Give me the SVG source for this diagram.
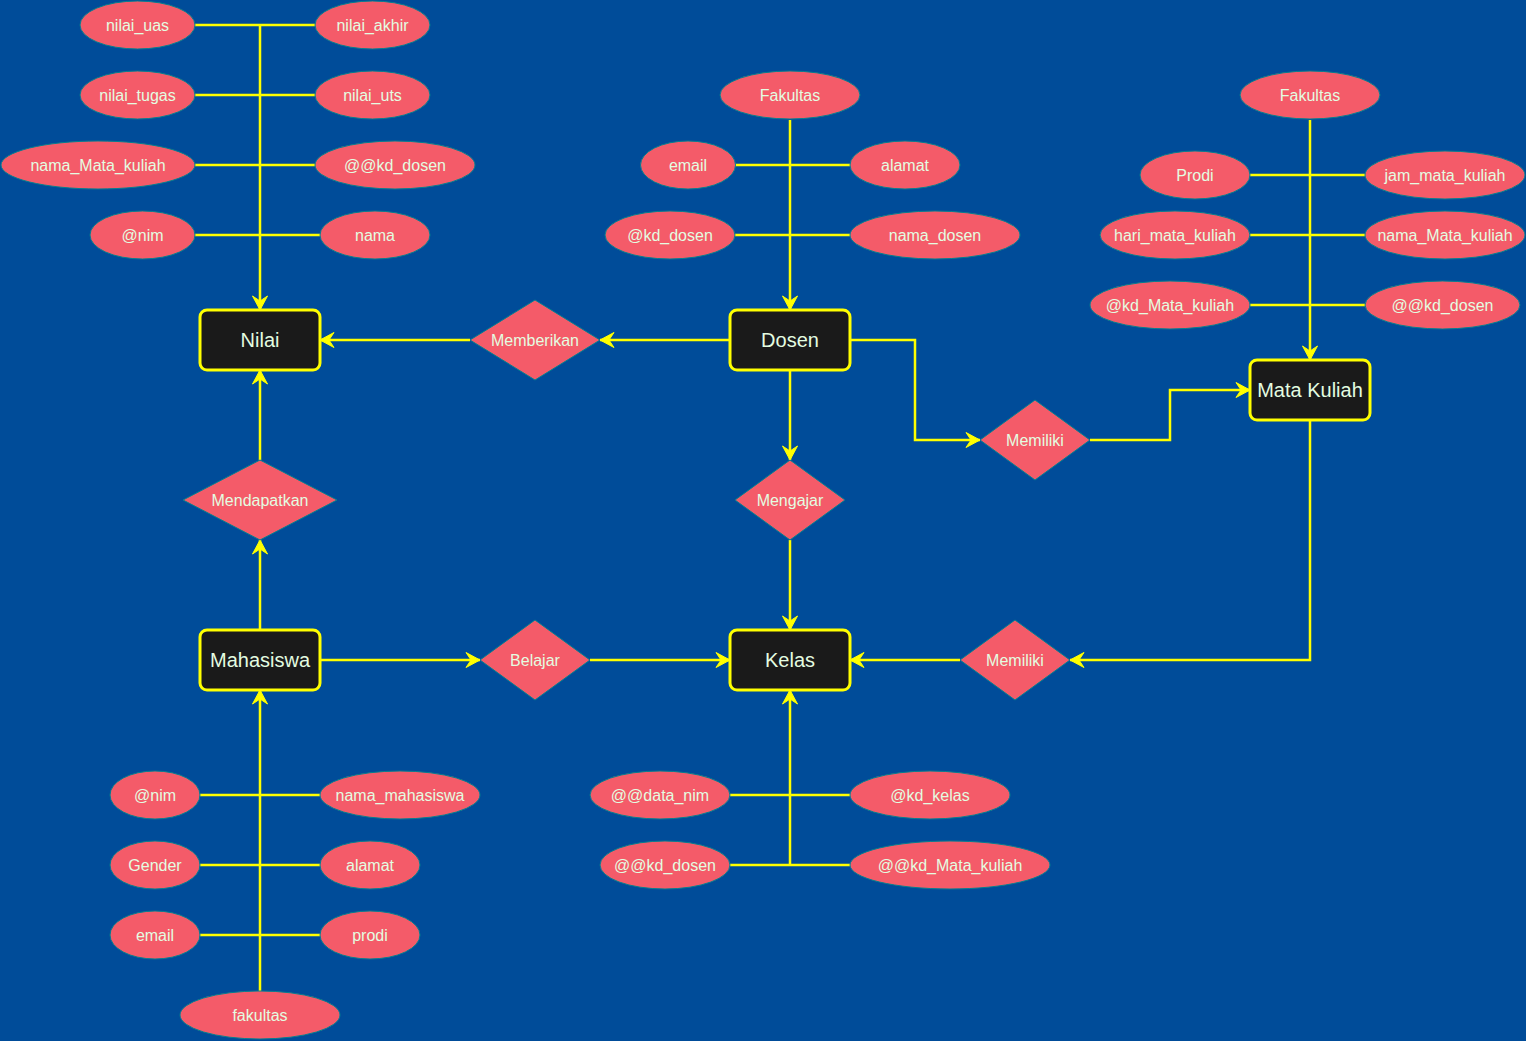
<svg xmlns="http://www.w3.org/2000/svg" width="1526" height="1041" viewBox="0 0 1526 1041">
<defs>
<style>
.bg{fill:#004C99}
.attr{fill:#F45B69;stroke:#028090;stroke-width:1}
.rel{fill:#F45B69;stroke:#028090;stroke-width:1}
.ent{fill:#1A1A1A;stroke:#FFFF00;stroke-width:3}
.t{font-family:"Liberation Sans",Arial,sans-serif;font-size:16px;fill:#E4FDE1;text-anchor:middle}
.te{font-family:"Liberation Sans",Arial,sans-serif;font-size:20px;fill:#E4FDE1;text-anchor:middle}
.c{fill:none;stroke:#FFFF00;stroke-width:2.5}
.a{marker-end:url(#arr)}
</style>
<marker id="arr" markerUnits="userSpaceOnUse" markerWidth="16" markerHeight="16" viewBox="-15 -8 16 16" refX="0" refY="0" orient="auto">
<path d="M0,0 L-14,-7.5 L-9,0 L-14,7.5 Z" fill="#FFFF00" stroke="#FFFF00" stroke-width="1"/>
</marker>
</defs>
<rect class="bg" x="0" y="0" width="1526" height="1041"/>
<g id="connectors">
<!-- Nilai attributes -->
<path class="c a" d="M260,25 L260,310"/>
<path class="c" d="M195,25 L316,25"/>
<path class="c" d="M195,95 L316,95"/>
<path class="c" d="M195,165 L316,165"/>
<path class="c" d="M195,235 L321,235"/>
<!-- Dosen attributes -->
<path class="c a" d="M790,120 L790,310"/>
<path class="c" d="M735,165 L851,165"/>
<path class="c" d="M735,235 L851,235"/>
<!-- Mata Kuliah attributes -->
<path class="c a" d="M1310,120 L1310,360"/>
<path class="c" d="M1250,175 L1366,175"/>
<path class="c" d="M1250,235 L1366,235"/>
<path class="c" d="M1250,305 L1366,305"/>
<!-- Mahasiswa attributes -->
<path class="c a" d="M260,991 L260,690"/>
<path class="c" d="M200,795 L321,795"/>
<path class="c" d="M200,865 L321,865"/>
<path class="c" d="M200,935 L321,935"/>
<!-- Kelas attributes -->
<path class="c a" d="M790,865 L790,690"/>
<path class="c" d="M730,795 L851,795"/>
<path class="c" d="M730,865 L851,865"/>
<!-- relationships -->
<path class="c a" d="M730,340 L600,340"/>
<path class="c a" d="M470,340 L320,340"/>
<path class="c a" d="M260,460 L260,370"/>
<path class="c a" d="M260,630 L260,540"/>
<path class="c a" d="M320,660 L480,660"/>
<path class="c a" d="M590,660 L730,660"/>
<path class="c a" d="M790,370 L790,460"/>
<path class="c a" d="M790,540 L790,630"/>
<path class="c a" d="M850,340 L915,340 L915,440 L980,440"/>
<path class="c a" d="M1090,440 L1170,440 L1170,390 L1250,390"/>
<path class="c a" d="M1310,420 L1310,660 L1070,660"/>
<path class="c a" d="M960,660 L850,660"/>
</g>
<!-- Entities -->
<g id="nilai"><rect class="ent" x="200" y="310" width="120" height="60" rx="7"/><text class="te" x="260" y="347">Nilai</text></g>
<g id="dosen"><rect class="ent" x="730" y="310" width="120" height="60" rx="7"/><text class="te" x="790" y="347">Dosen</text></g>
<g id="mata-kuliah"><rect class="ent" x="1250" y="360" width="120" height="60" rx="7"/><text class="te" x="1310" y="397">Mata Kuliah</text></g>
<g id="mahasiswa"><rect class="ent" x="200" y="630" width="120" height="60" rx="7"/><text class="te" x="260" y="667">Mahasiswa</text></g>
<g id="kelas"><rect class="ent" x="730" y="630" width="120" height="60" rx="7"/><text class="te" x="790" y="667">Kelas</text></g>
<!-- Relationships -->
<g id="rel-memberikan"><polygon class="rel" points="535,300 600,340 535,380 470,340"/><text class="t" x="535" y="346">Memberikan</text></g>
<g id="rel-mendapatkan"><polygon class="rel" points="260,460 337,500 260,540 183,500"/><text class="t" x="260" y="506">Mendapatkan</text></g>
<g id="rel-belajar"><polygon class="rel" points="535,620 590,660 535,700 480,660"/><text class="t" x="535" y="666">Belajar</text></g>
<g id="rel-mengajar"><polygon class="rel" points="790,460 845,500 790,540 735,500"/><text class="t" x="790" y="506">Mengajar</text></g>
<g id="rel-memiliki-1"><polygon class="rel" points="1035,400 1090,440 1035,480 980,440"/><text class="t" x="1035" y="446">Memiliki</text></g>
<g id="rel-memiliki-2"><polygon class="rel" points="1015,620 1070,660 1015,700 960,660"/><text class="t" x="1015" y="666">Memiliki</text></g>
<!-- Nilai attributes -->
<g id="nilai-uas"><ellipse class="attr" cx="137.5" cy="25" rx="57.5" ry="24"/><text class="t" x="137.5" y="31">nilai_uas</text></g>
<g id="nilai-akhir"><ellipse class="attr" cx="372.5" cy="25" rx="57.5" ry="24"/><text class="t" x="372.5" y="31">nilai_akhir</text></g>
<g id="nilai-tugas"><ellipse class="attr" cx="137.5" cy="95" rx="57.5" ry="24"/><text class="t" x="137.5" y="101">nilai_tugas</text></g>
<g id="nilai-uts"><ellipse class="attr" cx="372.5" cy="95" rx="57.5" ry="24"/><text class="t" x="372.5" y="101">nilai_uts</text></g>
<g id="nilai-nama-mk"><ellipse class="attr" cx="98" cy="165" rx="97" ry="24"/><text class="t" x="98" y="171">nama_Mata_kuliah</text></g>
<g id="nilai-kd-dosen"><ellipse class="attr" cx="395" cy="165" rx="80" ry="24"/><text class="t" x="395" y="171">@@kd_dosen</text></g>
<g id="nilai-nim"><ellipse class="attr" cx="142.5" cy="235" rx="52.5" ry="24"/><text class="t" x="142.5" y="241">@nim</text></g>
<g id="nilai-nama"><ellipse class="attr" cx="375" cy="235" rx="55" ry="24"/><text class="t" x="375" y="241">nama</text></g>
<!-- Dosen attributes -->
<g id="dosen-fakultas"><ellipse class="attr" cx="790" cy="95" rx="70" ry="24"/><text class="t" x="790" y="101">Fakultas</text></g>
<g id="dosen-email"><ellipse class="attr" cx="688" cy="165" rx="47.5" ry="24"/><text class="t" x="688" y="171">email</text></g>
<g id="dosen-alamat"><ellipse class="attr" cx="905" cy="165" rx="55" ry="24"/><text class="t" x="905" y="171">alamat</text></g>
<g id="dosen-kd"><ellipse class="attr" cx="670" cy="235" rx="65" ry="24"/><text class="t" x="670" y="241">@kd_dosen</text></g>
<g id="dosen-nama"><ellipse class="attr" cx="935" cy="235" rx="85" ry="24"/><text class="t" x="935" y="241">nama_dosen</text></g>
<!-- Mata Kuliah attributes -->
<g id="mk-fakultas"><ellipse class="attr" cx="1310" cy="95" rx="70" ry="24"/><text class="t" x="1310" y="101">Fakultas</text></g>
<g id="mk-prodi"><ellipse class="attr" cx="1195" cy="175" rx="55" ry="24"/><text class="t" x="1195" y="181">Prodi</text></g>
<g id="mk-jam"><ellipse class="attr" cx="1445" cy="175" rx="80" ry="24"/><text class="t" x="1445" y="181">jam_mata_kuliah</text></g>
<g id="mk-hari"><ellipse class="attr" cx="1175" cy="235" rx="75" ry="24"/><text class="t" x="1175" y="241">hari_mata_kuliah</text></g>
<g id="mk-nama"><ellipse class="attr" cx="1445" cy="235" rx="80" ry="24"/><text class="t" x="1445" y="241">nama_Mata_kuliah</text></g>
<g id="mk-kd"><ellipse class="attr" cx="1170" cy="305" rx="80" ry="24"/><text class="t" x="1170" y="311">@kd_Mata_kuliah</text></g>
<g id="mk-kd-dosen"><ellipse class="attr" cx="1442.5" cy="305" rx="77.5" ry="24"/><text class="t" x="1442.5" y="311">@@kd_dosen</text></g>
<!-- Mahasiswa attributes -->
<g id="mhs-nim"><ellipse class="attr" cx="155" cy="795" rx="45" ry="24"/><text class="t" x="155" y="801">@nim</text></g>
<g id="mhs-nama"><ellipse class="attr" cx="400" cy="795" rx="80" ry="24"/><text class="t" x="400" y="801">nama_mahasiswa</text></g>
<g id="mhs-gender"><ellipse class="attr" cx="155" cy="865" rx="45" ry="24"/><text class="t" x="155" y="871">Gender</text></g>
<g id="mhs-alamat"><ellipse class="attr" cx="370" cy="865" rx="50" ry="24"/><text class="t" x="370" y="871">alamat</text></g>
<g id="mhs-email"><ellipse class="attr" cx="155" cy="935" rx="45" ry="24"/><text class="t" x="155" y="941">email</text></g>
<g id="mhs-prodi"><ellipse class="attr" cx="370" cy="935" rx="50" ry="24"/><text class="t" x="370" y="941">prodi</text></g>
<g id="mhs-fakultas"><ellipse class="attr" cx="260" cy="1015" rx="80" ry="24"/><text class="t" x="260" y="1021">fakultas</text></g>
<!-- Kelas attributes -->
<g id="kelas-nim"><ellipse class="attr" cx="660" cy="795" rx="70" ry="24"/><text class="t" x="660" y="801">@@data_nim</text></g>
<g id="kelas-kd"><ellipse class="attr" cx="930" cy="795" rx="80" ry="24"/><text class="t" x="930" y="801">@kd_kelas</text></g>
<g id="kelas-kd-dosen"><ellipse class="attr" cx="665" cy="865" rx="65" ry="24"/><text class="t" x="665" y="871">@@kd_dosen</text></g>
<g id="kelas-kd-mk"><ellipse class="attr" cx="950" cy="865" rx="100" ry="24"/><text class="t" x="950" y="871">@@kd_Mata_kuliah</text></g>
</svg>
